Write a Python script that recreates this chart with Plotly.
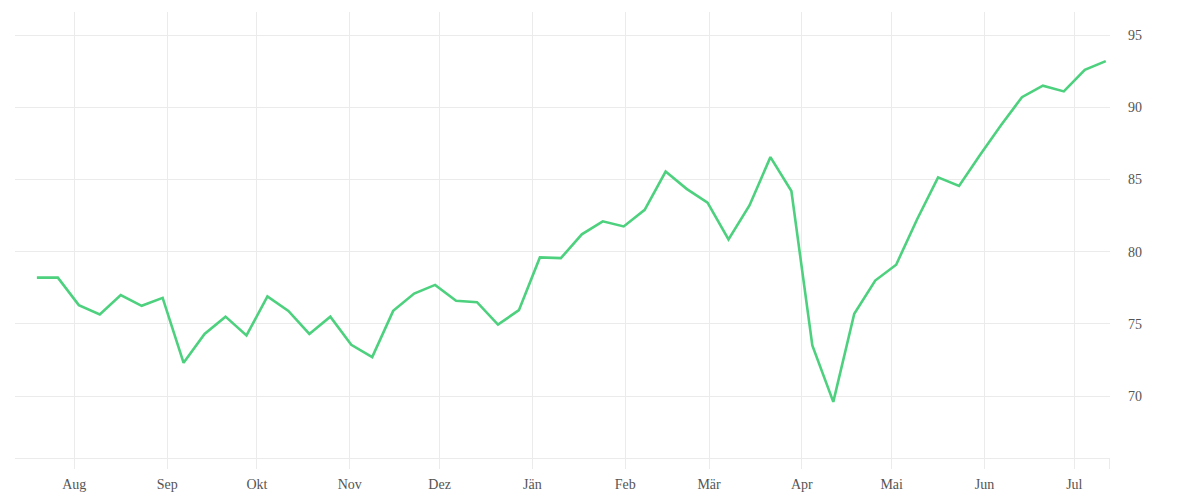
import pandas as pd
import plotly.graph_objects as go

# Weekly series
start_date = "2021-07-19 12:00"
n_weeks = 52
values = [
    78.2, 78.2, 76.3, 75.65, 77.0, 76.25, 76.8, 72.3, 74.3, 75.5,
    74.2, 76.9, 75.9, 74.3, 75.5, 73.55, 72.7, 75.9, 77.1, 77.7,
    76.6, 76.5, 74.95, 75.95, 79.6, 79.55, 81.2, 82.1, 81.75, 82.9,
    85.55, 84.35, 83.4, 80.85, 83.2, 86.55, 84.2, 73.5, 69.6, 75.7,
    78.0, 79.1, 82.25, 85.15, 84.55, 86.7, 88.75, 90.7, 91.5, 91.1,
    92.6, 93.2,
]
dates = pd.date_range(start_date, periods=n_weeks, freq="7D")

month_ticks = ["2021-08-01", "2021-09-01", "2021-10-01", "2021-11-01", "2021-12-01",
               "2022-01-01", "2022-02-01", "2022-03-01", "2022-04-01", "2022-05-01",
               "2022-06-01", "2022-07-01"]
month_labels = ["Aug", "Sep", "Okt", "Nov", "Dez", "Jän", "Feb", "Mär", "Apr", "Mai", "Jun", "Jul"]

x_range = ["2021-07-12 04:30", "2022-07-12 22:00"]
end_tick = "2022-07-12 21:00"

y_range = [65.71, 96.6]
y_ticks = [70, 75, 80, 85, 90, 95]

grid = "#ebebeb"
text_col = "#555555"
font_family = "Liberation Serif"

fig = go.Figure()
fig.add_trace(go.Scatter(
    x=dates, y=values, mode="lines",
    line=dict(color="#4dd17e", width=2.6),
    hoverinfo="x+y", showlegend=False,
))

fig.update_layout(
    width=1200, height=500,
    margin=dict(l=7, r=98, t=4, b=50),
    paper_bgcolor="white", plot_bgcolor="white",
    font=dict(family=font_family, size=14, color=text_col),
    xaxis=dict(
        type="date", range=x_range,
        tickvals=month_ticks + [end_tick], ticktext=month_labels + [""],
        showgrid=True, gridcolor=grid, gridwidth=1,
        ticks="outside", ticklen=10, tickcolor=grid, tickwidth=1,
        showline=True, linecolor=grid, linewidth=1,
        zeroline=False,
        ticklabelstandoff=3,
        tickfont=dict(family=font_family, size=14, color=text_col),
    ),
    yaxis=dict(
        side="right", range=y_range, tickvals=y_ticks,
        showgrid=True, gridcolor=grid, gridwidth=1,
        zeroline=False, showline=False, ticks="",
        ticklabelstandoff=17,
        tickfont=dict(family=font_family, size=14, color=text_col),
    ),
)

fig.write_html("out.html")
